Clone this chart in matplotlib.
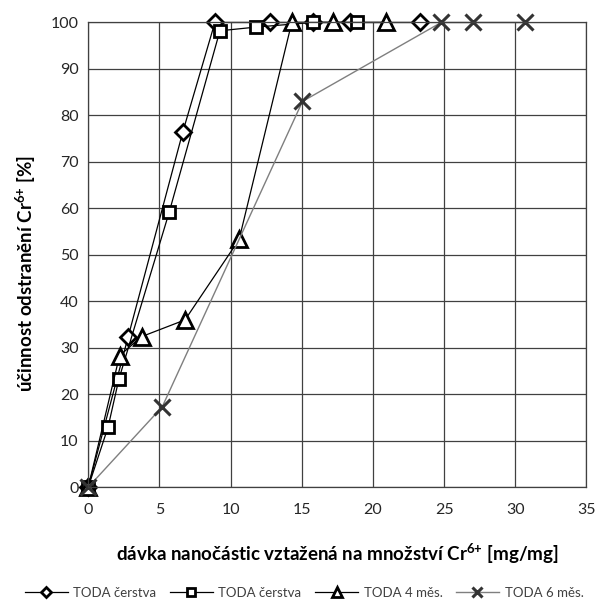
import matplotlib.pyplot as plt

plt.rcParams['font.family'] = ['Lato', 'DejaVu Sans']
plt.rcParams['mathtext.fontset'] = 'custom'
plt.rcParams['mathtext.rm'] = 'Lato'
plt.rcParams['mathtext.bf'] = 'Lato:bold'

# TODA čerstva (diamond)
x_diam = [0, 2.8, 6.65, 8.9, 12.8, 15.8, 18.4, 23.3]
y_diam = [0, 32.3, 76.5, 100, 100, 100, 100, 100]
# TODA čerstva (square)
x_sq = [0, 1.4, 2.15, 5.7, 9.25, 11.8, 15.8, 18.85]
y_sq = [0, 13.0, 23.2, 59.3, 98.2, 99.0, 100, 100]
# TODA 4 měs.
x_tri = [0, 2.2, 3.75, 6.8, 10.6, 14.3, 17.2, 20.95]
y_tri = [0, 28.3, 32.4, 36.0, 53.3, 100, 100, 100]
# TODA 6 měs.
x_x = [0, 5.2, 15.05, 24.8, 27.0, 30.7]
y_x = [0, 17.3, 83.0, 100, 100, 100]

labels = ["TODA čerstva", "TODA čerstva", "TODA 4 měs.", "TODA 6 měs."]

fig = plt.figure(figsize=(5.96, 6.06), dpi=100)
ax = fig.add_axes([0.148, 0.196, 0.836, 0.767])

ax.plot(x_diam, y_diam, color='black', lw=0.9, marker='D', ms=8.5,
        mfc='white', mec='black', mew=2, label=labels[0])
ax.plot(x_sq, y_sq, color='black', lw=0.9, marker='s', ms=9,
        mfc='white', mec='black', mew=2, label=labels[1])
ax.plot(x_tri, y_tri, color='black', lw=0.9, marker='^', ms=11,
        mfc='white', mec='black', mew=2, label=labels[2])
ax.plot(x_x, y_x, color='#7f7f7f', lw=1.0, marker='x', ms=11,
        mec='#333333', mew=2.2, label=labels[3])

ax.set_xlim(0, 35)
ax.set_ylim(0, 100)
ax.set_xticks(range(0, 36, 5))
ax.set_yticks(range(0, 101, 10))
ax.grid(True, color='#404040', lw=0.9)
ax.set_axisbelow(True)
for s in ax.spines.values():
    s.set_color('#404040')
    s.set_linewidth(0.9)
ax.tick_params(length=0, labelsize=11.5, colors='#262626')
ax.tick_params(axis='x', pad=11)
ax.tick_params(axis='y', pad=7)
for ln in ax.lines:
    ln.set_clip_on(False)

ax.set_xlabel(r"dávka nanočástic vztažená na množství Cr$^{\mathbf{6{+}}}$ [mg/mg]",
              fontsize=13.5, fontweight='bold', labelpad=18)
ax.set_ylabel(r"účinnost odstranění Cr$^{\mathbf{6{+}}}$ [%]",
              fontsize=13.5, fontweight='bold')
ax.yaxis.set_label_coords(-0.10, 0.46)

leg = fig.legend(loc='center', bbox_to_anchor=(0.51, 0.022), ncol=4,
                 frameon=False, fontsize=9.5, handlelength=3.3,
                 columnspacing=1.0, handletextpad=0.4, markerscale=0.6,
                 labelcolor='#404040')

plt.savefig("out.png", dpi=100)
